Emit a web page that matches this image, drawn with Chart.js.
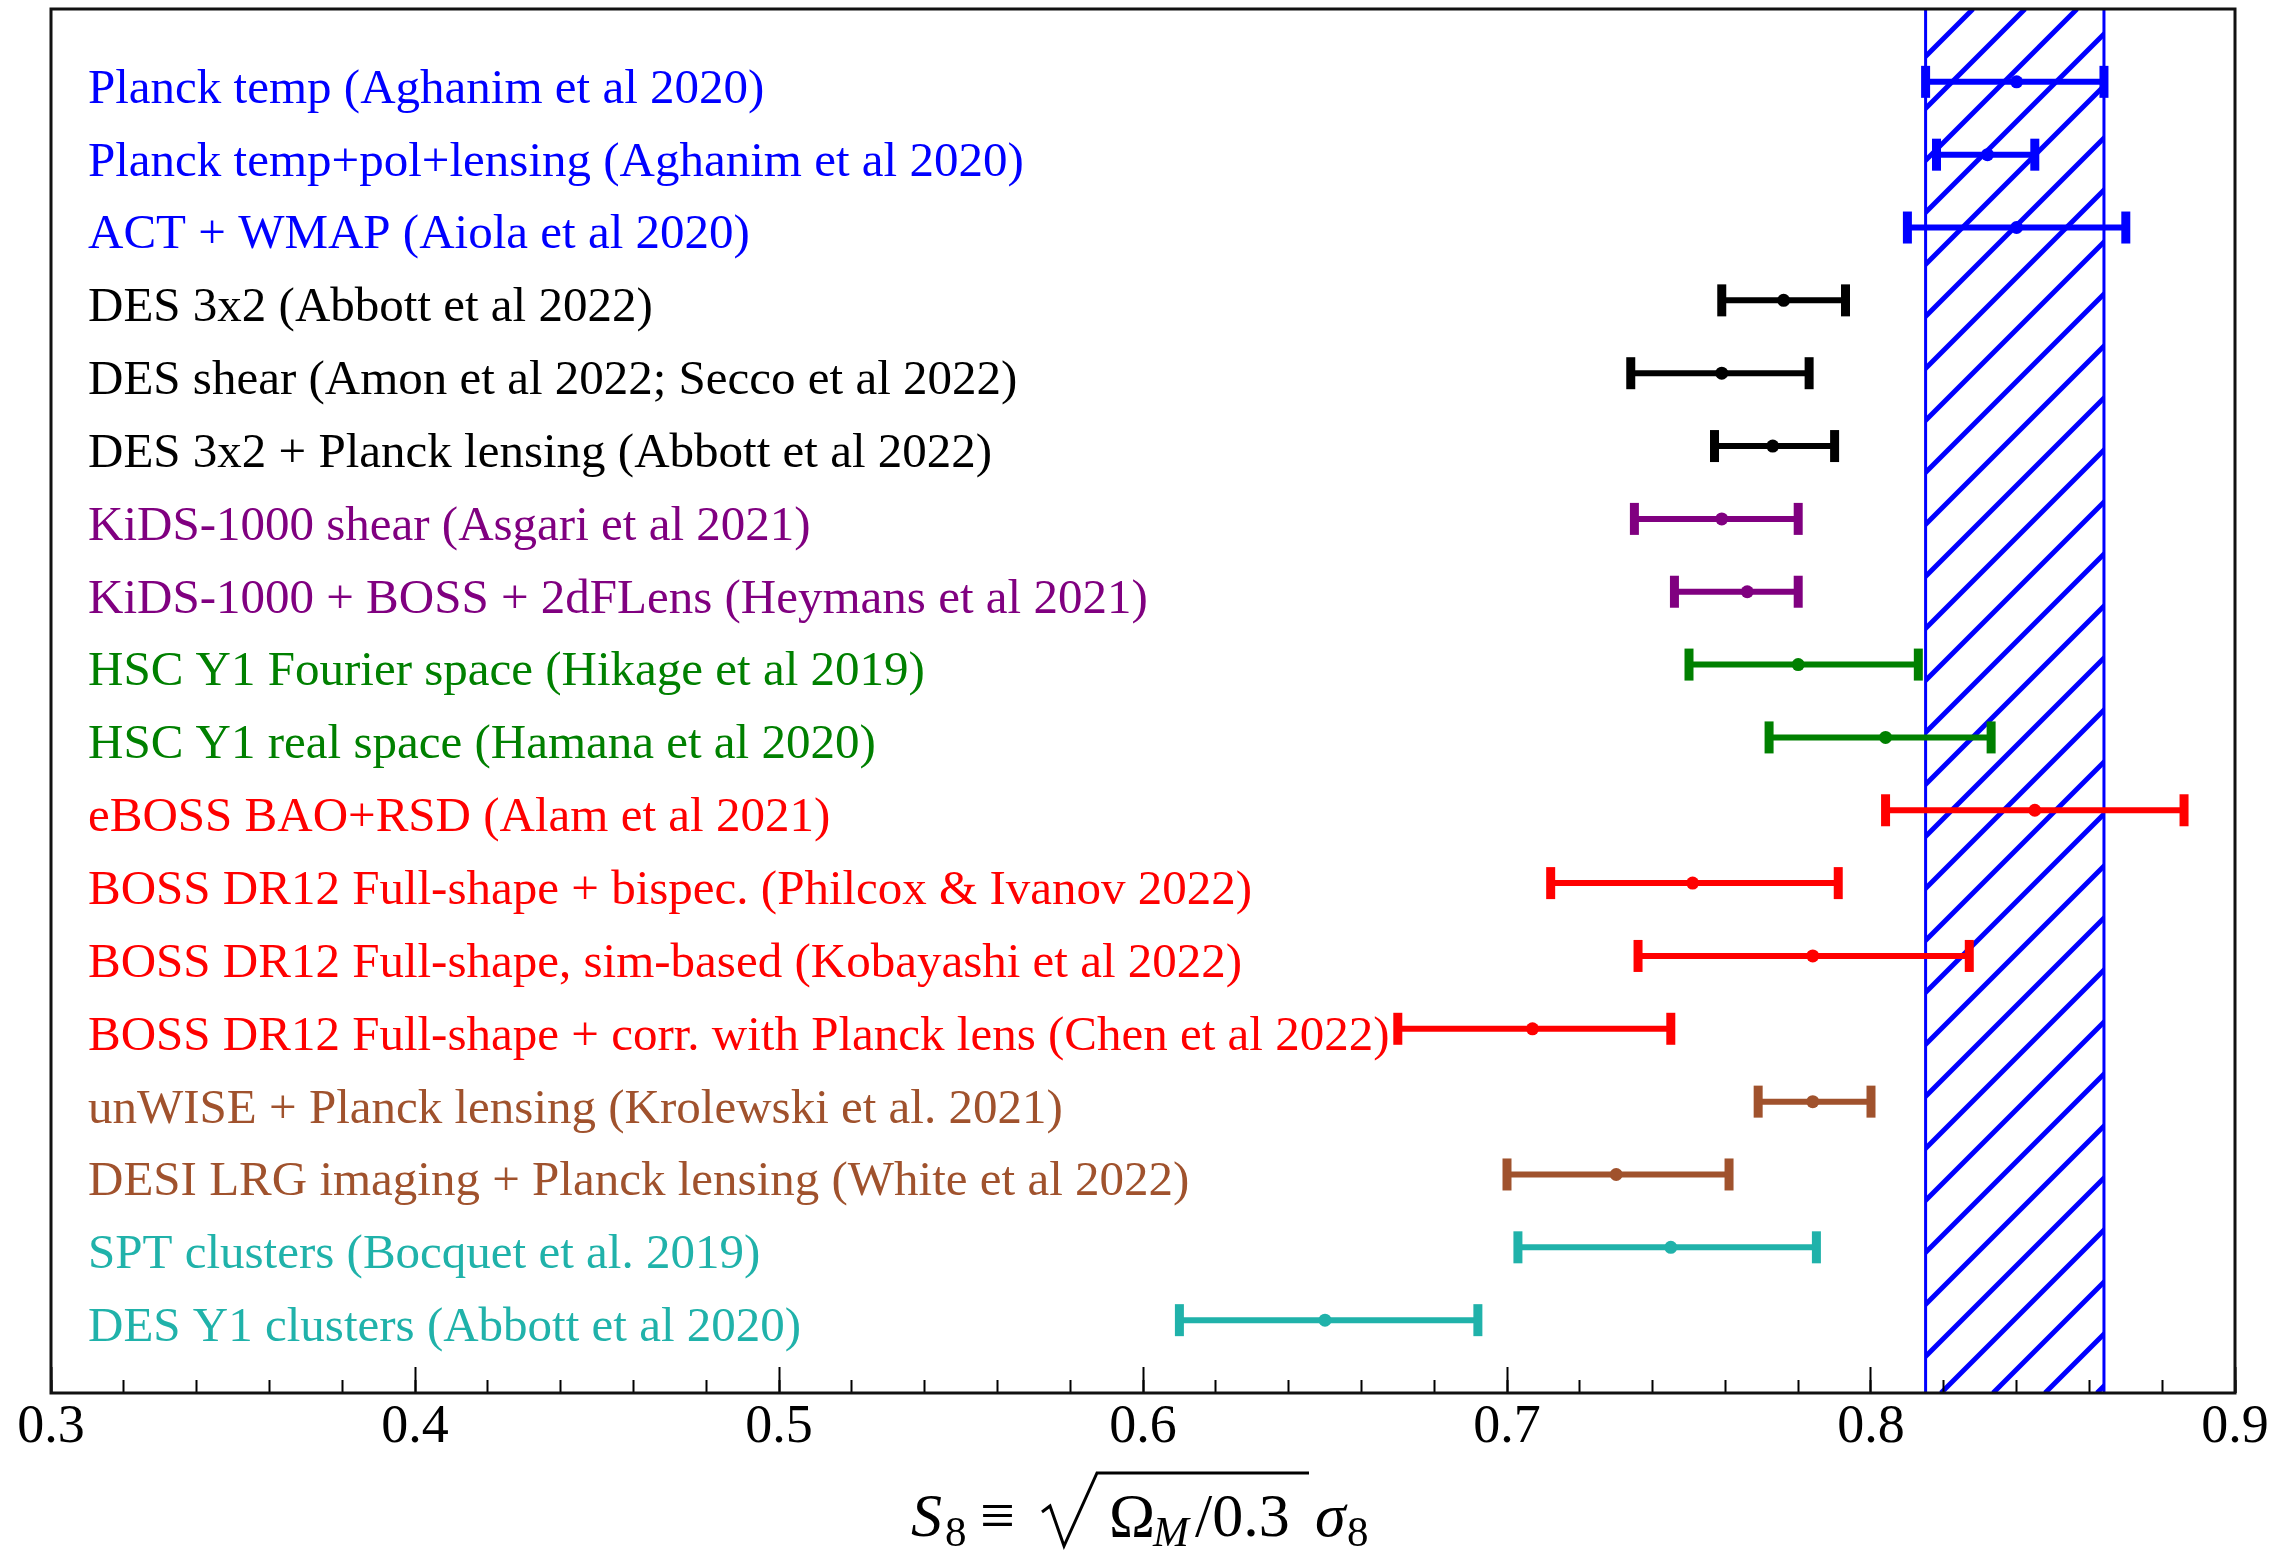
<!DOCTYPE html>
<html>
<head>
<meta charset="utf-8">
<script src="https://cdn.jsdelivr.net/npm/chart.js@4.4.1/dist/chart.umd.min.js"></script>
<style>
  html, body { margin: 0; background: #fff; }
  canvas { display: block; }
</style>
</head>
<body>
<canvas id="s8" width="2292" height="1553"></canvas>
<script>
    // S8 constraints, top to bottom
    const labels = [
      'Planck temp (Aghanim et al 2020)',
      'Planck temp+pol+lensing (Aghanim et al 2020)',
      'ACT + WMAP (Aiola et al 2020)',
      'DES 3x2 (Abbott et al 2022)',
      'DES shear (Amon et al 2022; Secco et al 2022)',
      'DES 3x2 + Planck lensing (Abbott et al 2022)',
      'KiDS-1000 shear (Asgari et al 2021)',
      'KiDS-1000 + BOSS + 2dFLens (Heymans et al 2021)',
      'HSC Y1 Fourier space (Hikage et al 2019)',
      'HSC Y1 real space (Hamana et al 2020)',
      'eBOSS BAO+RSD (Alam et al 2021)',
      'BOSS DR12 Full-shape + bispec. (Philcox & Ivanov 2022)',
      'BOSS DR12 Full-shape, sim-based (Kobayashi et al 2022)',
      'BOSS DR12 Full-shape + corr. with Planck lens (Chen et al 2022)',
      'unWISE + Planck lensing (Krolewski et al. 2021)',
      'DESI LRG imaging + Planck lensing (White et al 2022)',
      'SPT clusters (Bocquet et al. 2019)',
      'DES Y1 clusters (Abbott et al 2020)'
    ];
    const centers = [0.840, 0.832, 0.840, 0.776, 0.759, 0.773, 0.759, 0.766, 0.780, 0.804,
                     0.845, 0.751, 0.784, 0.707, 0.784, 0.730, 0.745, 0.650];
    const lows    = [0.815, 0.818, 0.810, 0.759, 0.734, 0.757, 0.735, 0.746, 0.750, 0.772,
                     0.804, 0.712, 0.736, 0.670, 0.769, 0.700, 0.703, 0.610];
    const highs   = [0.864, 0.845, 0.870, 0.793, 0.783, 0.790, 0.780, 0.780, 0.813, 0.833,
                     0.886, 0.791, 0.827, 0.745, 0.800, 0.761, 0.785, 0.692];
    const colors  = ['#0000ff', '#0000ff', '#0000ff', '#000000', '#000000', '#000000',
                     '#800080', '#800080', '#008000', '#008000',
                     '#ff0000', '#ff0000', '#ff0000', '#ff0000',
                     '#a0522d', '#a0522d', '#20b2aa', '#20b2aa'];
    // hatched Planck band
    const band = [0.815, 0.864];

    const serif = "'Liberation Serif', 'Times New Roman', serif";

    // one line per row: the bar itself, caps are rotated 'line' points
    const datasets = labels.map((lab, i) => ({
      type: 'line',
      label: lab,
      data: [{ x: lows[i], y: i + 1 }, { x: highs[i], y: i + 1 }],
      borderColor: colors[i],
      borderWidth: 6,
      pointStyle: 'line',
      pointRotation: 90,
      pointRadius: 16,
      pointHoverRadius: 16,
      pointBorderWidth: 9,
      pointHoverBorderWidth: 9,
      pointBorderColor: colors[i],
      pointBackgroundColor: colors[i],
      fill: false,
      tension: 0
    }));
    datasets.push({
      type: 'scatter',
      label: 'best fit',
      data: centers.map((c, i) => ({ x: c, y: i + 1 })),
      pointRadius: 6.5,
      pointHoverRadius: 6.5,
      pointBackgroundColor: colors,
      pointBorderColor: colors,
      pointBorderWidth: 0
    });

    // no automatic label padding around the plot, the layout padding decides
    const noPad = s => { s.paddingTop = 0; s.paddingBottom = 0; s.paddingLeft = 0; s.paddingRight = 0; };

    // hatch band, drawn under axes and bars
    const bandPlugin = {
      id: 'band',
      beforeDraw(chart) {
        const { ctx, chartArea: a, scales: { x } } = chart;
        const x0 = x.getPixelForValue(band[0]);
        const x1 = x.getPixelForValue(band[1]);
        ctx.save();
        ctx.beginPath();
        ctx.rect(x0, a.top, x1 - x0, a.bottom - a.top);
        ctx.clip();
        ctx.strokeStyle = '#0000ff';
        ctx.lineWidth = 5;
        const step = 52;
        for (let s = Math.floor((x0 + a.top) / step) * step + 6; s < x1 + a.bottom + step; s += step) {
          ctx.beginPath();
          ctx.moveTo(s - a.bottom, a.bottom);
          ctx.lineTo(s - a.top, a.top);
          ctx.stroke();
        }
        ctx.restore();
        ctx.save();
        ctx.strokeStyle = '#0000ff';
        ctx.lineWidth = 3;
        ctx.beginPath();
        ctx.moveTo(x0, a.top); ctx.lineTo(x0, a.bottom);
        ctx.moveTo(x1, a.top); ctx.lineTo(x1, a.bottom);
        ctx.stroke();
        ctx.restore();
      }
    };

    // frame + axis title S8 = sqrt(Om/0.3) sigma8
    const framePlugin = {
      id: 'frame',
      afterDraw(chart) {
        const { ctx, chartArea: a } = chart;
        ctx.save();
        ctx.strokeStyle = '#111';
        ctx.lineWidth = 3;
        ctx.strokeRect(a.left, a.top, a.right - a.left, a.bottom - a.top);

        const cx = (a.left + a.right) / 2;
        const base = 1536, sub = 1546;
        const big = '62px ' + serif, bigIt = 'italic 62px ' + serif;
        const small = '43px ' + serif, smallIt = 'italic 43px ' + serif;
        ctx.fillStyle = '#000';
        ctx.textBaseline = 'alphabetic';
        ctx.textAlign = 'left';
        const put = (t, f, dx, y) => { ctx.font = f; ctx.fillText(t, cx + dx, y); };
        put('S', bigIt, -232, base);
        put('8', small, -198, sub);
        put('\u2261', big, -163, base);
        // radical sign
        ctx.lineWidth = 3;
        ctx.strokeStyle = '#000';
        ctx.beginPath();
        ctx.moveTo(cx - 101, 1512);
        ctx.lineTo(cx - 93, 1506);
        ctx.lineTo(cx - 79, 1546);
        ctx.lineTo(cx - 46, 1473);
        ctx.lineTo(cx + 166, 1473);
        ctx.stroke();
        put('\u03A9', big, -34, base);
        put('M', smallIt, 10, sub);
        put('/0.3', big, 52, base);
        put('\u03C3', bigIt, 172, base);
        put('8', small, 204, sub);
        ctx.restore();
      }
    };

    const config = {
      data: { datasets },
      options: {
        responsive: false,
        animation: false,
        events: [],
        layout: { autoPadding: false, padding: { left: 51, right: 57, top: 9, bottom: 0 } },
        plugins: { legend: { display: false }, tooltip: { enabled: false } },
        scales: {
          x: {
            type: 'linear', position: 'bottom', weight: 1,
            min: 0.3, max: 0.9,
            grid: { drawOnChartArea: false, tickLength: -26, tickWidth: 2, tickColor: '#000' },
            border: { display: false },
            ticks: {
              stepSize: 0.1, padding: 28, color: '#000',
              font: { family: serif, size: 54 },
              callback: v => v.toFixed(1)
            },
            afterFit: s => { s.height = 160; noPad(s); }
          },
          xMinor: {
            type: 'linear', position: 'bottom', weight: 0,
            min: 0.3, max: 0.9,
            grid: { drawOnChartArea: false, tickLength: -13, tickWidth: 2, tickColor: '#000' },
            border: { display: false },
            ticks: { stepSize: 0.02, autoSkip: false, display: false },
            afterFit: s => { s.height = 0; noPad(s); }
          },
          y: {
            type: 'linear', position: 'left', reverse: true,
            min: 0, max: 19,
            grid: { display: false },
            border: { display: false },
            ticks: {
              stepSize: 1, autoSkip: false, mirror: true, padding: 37, labelOffset: 8,
              font: { family: serif, size: 49, lineHeight: 0.3 },
              color: c => colors[c.tick.value - 1] || '#000',
              callback: v => labels[v - 1] || ''
            },
            afterFit: s => { s.width = 0; noPad(s); }
          }
        }
      },
      plugins: [bandPlugin, framePlugin]
    };

    const chart = new Chart(document.getElementById('s8'), config);
</script>
</body>
</html>
